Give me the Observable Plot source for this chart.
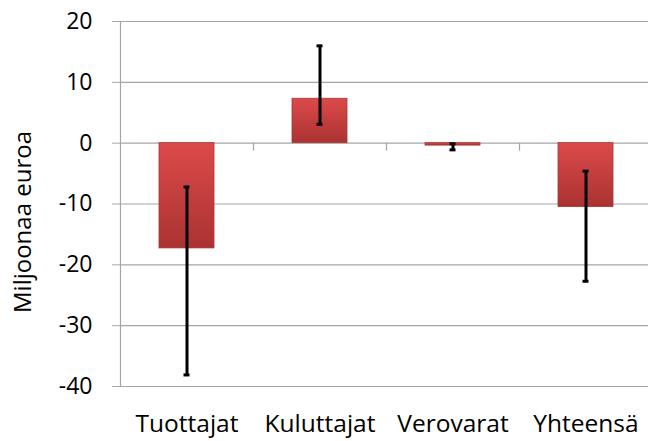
<!DOCTYPE html>
<html>
<head>
<meta charset="utf-8">
<script src="https://cdn.jsdelivr.net/npm/d3@7"></script>
<script src="https://cdn.jsdelivr.net/npm/@observablehq/plot@0.6"></script>
<style>
  html, body { margin: 0; padding: 0; background: #fff; }
  svg { font-family: "Open Sans", sans-serif; }
</style>
</head>
<body>
<div id="chart"></div>
<script>
const categories = ["Tuottajat", "Kuluttajat", "Verovarat", "Yhteensä"];
const values = [-17.3, 7.3, -0.4, -10.5];
const errLow = [-38.1, 3.1, -1.1, -22.7];
const errHigh = [-7.2, 16.0, -0.1, -4.6];
const yTicks = [-40, -30, -20, -10, 0, 10, 20];
const yLabel = "Miljoonaa euroa";

const data = categories.map((c, i) => ({cat: c, value: values[i], lo: errLow[i], hi: errHigh[i]}));

function gradientDefs() {
  const defs = d3.create("svg:defs");
  const g = defs.append("linearGradient").attr("id", "barGrad")
    .attr("x1", 0).attr("y1", 0).attr("x2", 0).attr("y2", 1);
  g.append("stop").attr("offset", "0%").attr("stop-color", "#dc4a4a");
  g.append("stop").attr("offset", "100%").attr("stop-color", "#ab3232");
  return defs.node();
}

function axisLines(index, scales, values, dimensions) {
  const x = scales.x, y = scales.y;
  const g = d3.create("svg:g").attr("stroke", "#a6a6a6").attr("stroke-width", 1.2);
  const step = x.step();
  const gap = step - x.bandwidth();
  const left = dimensions.marginLeft + 0.5;
  g.append("line").attr("x1", left).attr("x2", left)
    .attr("y1", y(d3.max(yTicks))).attr("y2", y(d3.min(yTicks)));
  categories.slice(1).forEach(c => {
    const px = Math.round(x(c) - gap / 2) + 0.5;
    g.append("line").attr("x1", px).attr("x2", px)
      .attr("y1", y(0)).attr("y2", y(0) + 8);
  });
  return g.node();
}

const chart = Plot.plot({
  width: 648,
  height: 441,
  marginLeft: 120,
  marginRight: 0,
  marginTop: 21,
  marginBottom: 55,
  style: {fontFamily: "'Open Sans', sans-serif", background: "#fff"},
  x: {domain: categories, range: [120, 652], paddingInner: 0.585, paddingOuter: 0.2925, label: null},
  y: {domain: [-40, 20], ticks: yTicks, label: null},
  marks: [
    gradientDefs,
    Plot.gridY(yTicks, {stroke: "#a6a6a6", strokeOpacity: 1, strokeWidth: 1.2}),
    Plot.axisY({ticks: yTicks, tickSize: 8, tickPadding: 20, fontSize: 23, stroke: "#a6a6a6", color: "#000", label: null, tickFormat: d => d}),
    Plot.text([yLabel], {frameAnchor: "left", textAnchor: "middle", rotate: -90, dx: -97, dy: 18, fontSize: 24, fill: "#000", text: d => d}),
    axisLines,
    Plot.barY(data, {x: "cat", y: "value", fill: "url(#barGrad)", stroke: "#a83434", strokeWidth: 0.8}),
    Plot.ruleX(data, {x: "cat", y1: "lo", y2: "hi", stroke: "#000", strokeWidth: 3}),
    Plot.tickY(data, {x: "cat", y: "lo", stroke: "#000", strokeWidth: 3, insetLeft: 24.5, insetRight: 24.5}),
    Plot.tickY(data, {x: "cat", y: "hi", stroke: "#000", strokeWidth: 3, insetLeft: 24.5, insetRight: 24.5}),
    Plot.axisX({tickSize: 0, tickPadding: 28, fontSize: 24.5, color: "#000", label: null})
  ]
});
document.getElementById("chart").appendChild(chart);
</script>
</body>
</html>
